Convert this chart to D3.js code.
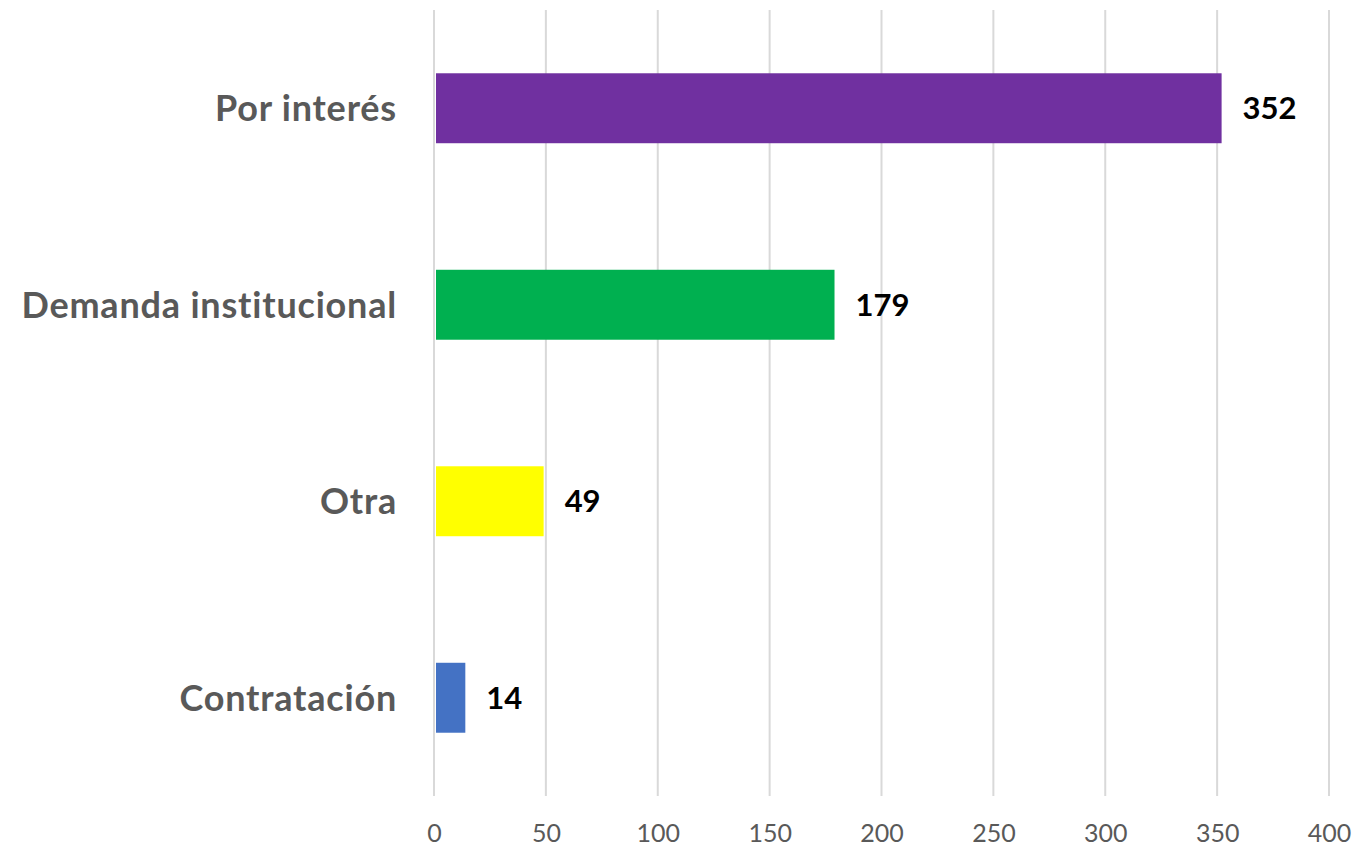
<!DOCTYPE html>
<html>
<head>
<meta charset="utf-8">
<script src="https://cdn.jsdelivr.net/npm/d3@7"></script>
<style>
  body { margin: 0; background: #fff; }
  svg { display: block; }
</style>
</head>
<body>
<svg id="chart"></svg>
<script>
// data
var categories = ["Por interés", "Demanda institucional", "Otra", "Contratación"];
var values = [352, 179, 49, 14];
var colors = ["#7030A0", "#00B050", "#FFFF00", "#4472C4"];
var ticks = [0, 50, 100, 150, 200, 250, 300, 350, 400];

var width = 1357, height = 849;
var plotLeft = 434, plotRight = 1329, plotTop = 10, plotBottom = 796;

var svg = d3.select("#chart")
    .attr("width", width)
    .attr("height", height);

var x = d3.scaleLinear().domain([0, 400]).range([plotLeft, plotRight]);
var y = d3.scaleBand().domain(categories).range([plotTop, plotBottom]).paddingInner(0.644).paddingOuter(0.322);

// gridlines
svg.append("g")
    .selectAll("line")
    .data(ticks)
    .enter()
    .append("line")
    .attr("x1", function (d) { return x(d); })
    .attr("x2", function (d) { return x(d); })
    .attr("y1", plotTop)
    .attr("y2", plotBottom)
    .attr("stroke", "#d9d9d9")
    .attr("stroke-width", 2);

// x axis labels
var xAxis = d3.axisBottom(x).tickValues(ticks).tickSize(0).tickPadding(0);
var gx = svg.append("g")
    .attr("transform", "translate(0,842)")
    .call(xAxis);
gx.select(".domain").remove();
gx.selectAll("text")
    .attr("y", 0)
    .attr("dy", null)
    .attr("fill", "#595959")
    .style("font-family", "Lato, sans-serif")
    .style("font-size", "25px");

// bars
svg.append("g")
    .selectAll("rect")
    .data(values)
    .enter()
    .append("rect")
    .attr("x", x(0) + 2)
    .attr("y", function (d, i) { return y(categories[i]); })
    .attr("width", function (d) { return x(d) - x(0) - 2; })
    .attr("height", y.bandwidth())
    .attr("fill", function (d, i) { return colors[i]; });

// value labels
svg.append("g")
    .selectAll("text")
    .data(values)
    .enter()
    .append("text")
    .attr("x", function (d) { return x(d) + 21; })
    .attr("y", function (d, i) { return y(categories[i]) + y.bandwidth() / 2; })
    .attr("dy", "0.36em")
    .text(function (d) { return d; })
    .style("font-family", "Lato, sans-serif")
    .style("font-weight", "bold")
    .style("font-size", "31px")
    .attr("fill", "#000");

// category labels
var yAxis = d3.axisLeft(y).tickSize(0).tickPadding(37);
var gy = svg.append("g")
    .attr("transform", "translate(" + plotLeft + ",0)")
    .call(yAxis);
gy.select(".domain").remove();
gy.selectAll("text")
    .attr("dy", "0.36em")
    .attr("fill", "#595959")
    .style("font-family", "Lato, sans-serif")
    .style("font-weight", "bold")
    .style("font-size", "36px")
    .style("letter-spacing", "0.8px");
</script>
</body>
</html>
